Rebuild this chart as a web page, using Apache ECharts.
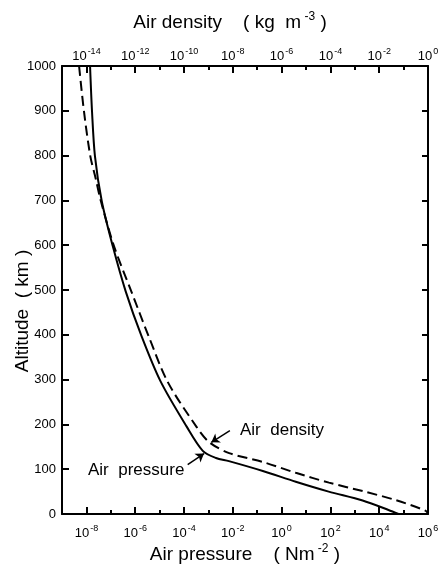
<!DOCTYPE html>
<html>
<head>
<meta charset="utf-8">
<script src="https://cdn.jsdelivr.net/npm/echarts@6/dist/echarts.min.js"></script>
<style>
  html, body { margin: 0; padding: 0; background: #fff; }
  #chart { width: 443px; height: 572px; }
</style>
</head>
<body>
<div id="chart"></div>
<script>
// altitude (km) and log10 of air pressure (N m^-2), solid curve
const pressureAlt = [1000, 899, 799, 698, 598, 497, 397, 296, 195, 141, 125, 118, 96, 72, 50, 30, 9, 0];
const pressureLog = [-7.85, -7.77, -7.65, -7.37, -6.92, -6.39, -5.74, -4.96, -3.89, -3.23, -2.69, -2.16, -0.77, 0.58, 1.93, 3.32, 4.38, 4.79];

// altitude (km) and log10 of air density (kg m^-3), dashed curve
const densityAlt = [1000, 899, 799, 749, 699, 598, 497, 397, 295, 194, 160, 136, 116, 92, 70, 51, 31, 7, 0];
const densityLog = [-14.30, -14.10, -13.84, -13.62, -13.41, -12.87, -12.16, -11.45, -10.67, -9.48, -8.96, -8.15, -6.76, -5.42, -4.06, -2.67, -1.32, -0.09, 0.0];

// tick exponents
const pressureMajor = [-8, -6, -4, -2, 0, 2, 4, 6];
const pressureMinor = [-7, -5, -3, -1, 1, 3, 5];
const densityMajor = [-14, -12, -10, -8, -6, -4, -2, 0];
const densityMinor = [-13, -11, -9, -7, -5, -3, -1];

// arrows: [from, to] in pressure-axis exponent / altitude
const densityArrow = [[-2.12, 186], [-2.88, 160]];
const pressureArrow = [[-3.85, 110], [-3.18, 135]];

const font = 'Liberation Sans';
const powRich = {
  b: { fontSize: 13, color: '#000', fontFamily: font },
  s: { fontSize: 9, color: '#000', fontFamily: font, padding: [0, 0, 10, 1] }
};
const powLabel = v => '{b|10}{s|' + v + '}';

const chart = echarts.init(document.getElementById('chart'));

const majorAxis = (pos, min, max, ticks, name, gap, pad) => ({
  type: 'value', position: pos, min: min, max: max, interval: 1,
  name: name, nameLocation: 'middle', nameGap: gap, nameMoveOverlap: false,
  nameTextStyle: {
    padding: pad,
    rich: {
      t: { fontSize: 19, color: '#000', fontFamily: font },
      s: { fontSize: 12, color: '#000', fontFamily: font, padding: [0, 0, 11, 0] }
    }
  },
  axisLine: { show: true, onZero: false, lineStyle: { color: '#000', width: 2 } },
  axisTick: { show: true, inside: true, length: 7, customValues: ticks, lineStyle: { color: '#000', width: 2 } },
  axisLabel: { customValues: ticks, margin: pos === 'top' ? 0 : 10, formatter: powLabel, rich: powRich },
  splitLine: { show: false }
});

const minorAxis = (pos, min, max, ticks) => ({
  type: 'value', position: pos, min: min, max: max, interval: 1,
  axisLine: { show: false, onZero: false },
  axisTick: { show: true, inside: true, length: 4, customValues: ticks, lineStyle: { color: '#000', width: 2 } },
  axisLabel: { show: false },
  splitLine: { show: false }
});

const option = {
  animation: false,
  backgroundColor: '#fff',
  grid: { left: 62, right: 15, top: 66, bottom: 58, containLabel: false, outerBoundsMode: 'none' },
  xAxis: [
    majorAxis('bottom', -9, 6, pressureMajor, '{t|Air pressure    ( Nm}{s| -2}{t| )}', 29, [0, 0, 0, 0]),
    majorAxis('top', -15, 0, densityMajor, '{t|Air density    ( kg  m}{s| -3}{t| )}', 32, [0, 30, 0, 0]),
    minorAxis('bottom', -9, 6, pressureMinor),
    minorAxis('top', -15, 0, densityMinor)
  ],
  yAxis: [
    {
      type: 'value', position: 'left', min: 0, max: 1000, interval: 100,
      name: 'Altitude  ( km )', nameLocation: 'middle', nameGap: 30, nameMoveOverlap: false,
      nameTextStyle: { fontSize: 19, color: '#000', fontFamily: font, padding: [0, 42, 0, 0] },
      axisLine: { show: true, onZero: false, lineStyle: { color: '#000', width: 2 } },
      axisTick: { show: true, inside: true, length: 7, lineStyle: { color: '#000', width: 2 } },
      axisLabel: { color: '#000', fontSize: 13, fontFamily: font, margin: 6, formatter: v => String(v) },
      splitLine: { show: false }
    },
    {
      type: 'value', position: 'right', min: 0, max: 1000, interval: 100,
      axisLine: { show: true, onZero: false, lineStyle: { color: '#000', width: 2 } },
      axisTick: { show: true, inside: true, length: 6, lineStyle: { color: '#000', width: 2 } },
      axisLabel: { show: false },
      splitLine: { show: false }
    }
  ],
  series: [
    {
      name: 'Air pressure', type: 'line', xAxisIndex: 0, yAxisIndex: 0,
      data: pressureLog.map((v, i) => [v, pressureAlt[i]]),
      showSymbol: false, symbol: 'none', smooth: 0.3,
      lineStyle: { color: '#000', width: 2 },
      markLine: {
        silent: true, symbol: ['none', 'arrow'], symbolSize: 8,
        label: { show: false },
        lineStyle: { color: '#000', width: 1.5, type: 'solid' },
        data: [
          [{ coord: densityArrow[0] }, { coord: densityArrow[1] }],
          [{ coord: pressureArrow[0] }, { coord: pressureArrow[1] }]
        ]
      }
    },
    {
      name: 'Air density', type: 'line', xAxisIndex: 1, yAxisIndex: 0,
      data: densityLog.map((v, i) => [v, densityAlt[i]]),
      showSymbol: false, symbol: 'none', smooth: 0.3,
      lineStyle: { color: '#000', width: 2, type: [10, 5] }
    }
  ],
  graphic: [
    { type: 'text', left: 240, top: 422, style: { text: 'Air  density', fontSize: 17, fontFamily: font, fill: '#000' } },
    { type: 'text', left: 88, top: 462, style: { text: 'Air  pressure', fontSize: 17, fontFamily: font, fill: '#000' } }
  ]
};

chart.setOption(option);
</script>
</body>
</html>
